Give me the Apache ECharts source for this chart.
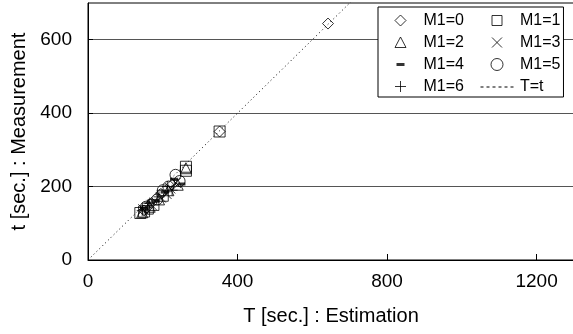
<!DOCTYPE html>
<html><head><meta charset="utf-8">
<script src="https://cdn.jsdelivr.net/npm/echarts@6/dist/echarts.min.js"></script>
<style>html,body{margin:0;padding:0;background:#fff}#c{width:573px;height:334px}</style>
</head><body><div id="c"></div>
<script>
const xTicks = [0, 400, 800, 1200];
const yTicks = [0, 200, 400, 600];
const seriesNames = ['M1=0', 'M1=1', 'M1=2', 'M1=3', 'M1=4', 'M1=5', 'M1=6'];
const m0 = [[642, 644], [352, 350], [150, 135], [170, 155], [195, 180], [225, 205]];
const m1 = [[140, 128], [150, 132], [160, 140], [175, 150], [200, 175], [262, 254], [262, 243], [352, 350]];
const m2 = [[145, 130], [165, 145], [190, 165], [215, 190], [240, 205], [262, 250]];
const m3 = [[148, 138], [170, 150], [195, 170], [220, 195], [235, 210], [210, 180]];
const m4 = [[150, 140], [180, 160], [205, 185], [250, 207], [230, 220]];
const m5 = [[155, 145], [185, 165], [215, 200], [234, 232], [245, 215], [200, 190]];
const m6 = [[145, 135], [165, 155], [190, 172], [212, 200], [225, 190], [160, 148]];
const identityLine = [[0, 0], [1300, 1300]];
const lineName = 'T=t';

const seriesData = [m0, m1, m2, m3, m4, m5, m6];
const symbols = ['diamond', 'rect', 'triangle', 'path://M0,0L10,10M10,0L0,10', 'rect', 'circle', 'path://M5,0L5,10M0,5L10,5'];
const sizes = [11, 11, 11, 10, [8, 3], 11, 11];
const legendIcons = [
  'path://M0,0M12,12M6,0.5L11.5,6L6,11.5L0.5,6Z',
  'path://M0,0M12,12M1,1h10v10h-10Z',
  'path://M0,0M12,12M6,0.5L11.5,11L0.5,11Z',
  'path://M0,0M12,12M1,1L11,11M11,1L1,11',
  'path://M0,0M12,12M2,4.5h8v3h-8Z',
  'circle',
  'path://M0,0M12,12M6,0.5L6,11.5M0.5,6L11.5,6'];
const hollow = {color: 'rgba(0,0,0,0)', borderColor: '#000', borderWidth: 1};
const solid = {color: '#000', borderColor: '#000', borderWidth: 0};

const FONT = 'Liberation Sans';
const series = seriesData.map((d, i) => ({
  name: seriesNames[i], type: 'scatter', data: d, symbol: symbols[i], symbolSize: sizes[i],
  itemStyle: i === 4 ? solid : hollow, z: 3
}));
series.push({
  name: lineName, type: 'line', data: identityLine, symbol: 'none', clip: true,
  lineStyle: {color: '#000', width: 1, type: [1, 3]}, z: 2
});
const legendOrder = [0, 2, 4, 6, 1, 3, 5];
const legendData = legendOrder.map((i, k) => ({
  name: seriesNames[i], icon: legendIcons[i],
  itemStyle: i === 4 ? solid : hollow,
  textStyle: k < 4 ? {width: 62} : {}
}));
legendData.push({name: lineName, icon: 'path://M0,6h3v1h-3zM6,6h3v1h-3zM12,6h3v1h-3zM18,6h3v1h-3zM24,6h3v1h-3zM30,6h3v1h-3zM0,0M33,12',
  itemStyle: {color: '#000', borderWidth: 0}});

const chart = echarts.init(document.getElementById('c'), null, {renderer: 'canvas'});
chart.setOption({
  animation: false,
  backgroundColor: '#fff',
  grid: {left: 88, right: -1, top: 3, bottom: 74, show: true, borderColor: '#000', borderWidth: 1,
    backgroundColor: 'transparent', containLabel: false, outerBoundsMode: 'none'},
  xAxis: {
    type: 'value', min: xTicks[0], max: 1300, interval: 400,
    name: 'T [sec.] : Estimation', nameLocation: 'middle', nameGap: 46,
    nameTextStyle: {fontFamily: FONT, fontSize: 20, color: '#000'},
    axisLine: {show: true, onZero: false, lineStyle: {color: '#000', width: 1}},
    axisTick: {show: true, inside: true, length: 6, lineStyle: {color: '#000'}},
    axisLabel: {fontFamily: FONT, fontSize: 19, color: '#000', margin: 12, showMaxLabel: false,
      formatter: v => String(v)},
    splitLine: {show: false}
  },
  yAxis: {
    type: 'value', min: yTicks[0], max: 700, interval: 200,
    name: 't [sec.] : Measurement', nameLocation: 'middle', nameGap: 56,
    nameTextStyle: {fontFamily: FONT, fontSize: 20, color: '#000'},
    axisLine: {show: true, onZero: false, lineStyle: {color: '#000', width: 1}},
    axisTick: {show: true, inside: true, length: 5, lineStyle: {color: '#000'}},
    axisLabel: {fontFamily: FONT, fontSize: 19, color: '#000', margin: 16, showMaxLabel: false,
      formatter: v => String(v)},
    splitLine: {show: true, showMaxLine: false, lineStyle: {color: '#555', width: 1}}
  },
  legend: {
    orient: 'vertical', left: 378, top: 7, height: 90,
    padding: [5, 3, 2, 16], itemGap: 5, itemWidth: 36, itemHeight: 12,
    symbolKeepAspect: true,
    borderColor: '#000', borderWidth: 1, backgroundColor: '#fff',
    textStyle: {fontFamily: FONT, fontSize: 16, color: '#000', lineHeight: 17},
    data: legendData
  },
  series: series
});
</script></body></html>
